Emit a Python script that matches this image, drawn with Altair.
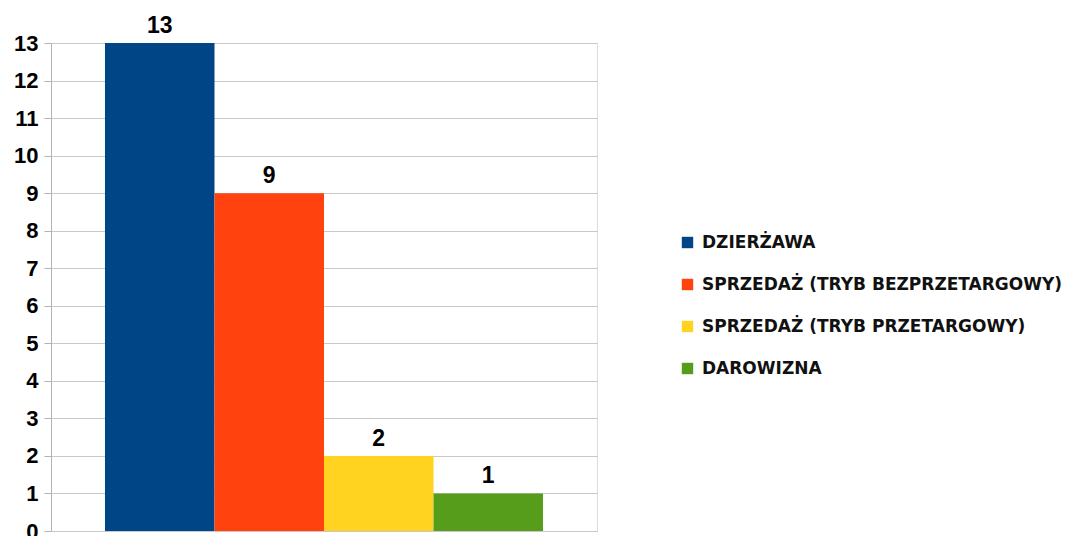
import altair as alt
import pandas as pd

categories = ["DZIERŻAWA", "SPRZEDAŻ (TRYB BEZPRZETARGOWY)", "SPRZEDAŻ (TRYB PRZETARGOWY)", "DAROWIZNA"]
values = [13, 9, 2, 1]
colors = ["#004586", "#ff420e", "#ffd320", "#579d1c"]
y_ticks = list(range(0, 14))

df = pd.DataFrame({"kategoria": categories, "liczba": values})

x_enc = alt.X("kategoria:N", sort=categories, axis=None,
              scale=alt.Scale(paddingInner=0, paddingOuter=0.493))

y_scale = alt.Scale(domain=[0, 13], nice=False)
y_axis = alt.Axis(values=y_ticks, title=None, grid=True, labelOverlap=False)

bars = alt.Chart(df).mark_bar().encode(
    x=x_enc,
    y=alt.Y("liczba:Q", scale=y_scale, axis=y_axis),
    color=alt.Color("kategoria:N", sort=categories,
                    scale=alt.Scale(domain=categories, range=colors),
                    legend=alt.Legend(title=None, orient="none", legendX=628, legendY=191,
                                      symbolType="square", symbolSize=130, symbolStrokeWidth=0,
                                      labelFont="DejaVu Sans", labelFontSize=17,
                                      labelFontWeight="bold", labelColor="#111111",
                                      rowPadding=24, labelOffset=6, padding=0,
                                      labelLimit=500)),
)

labels = alt.Chart(df).mark_text(dy=-10, baseline="alphabetic", font="Liberation Sans",
                                 fontSize=23, fontWeight="bold", color="#000000").encode(
    x=x_enc,
    y=alt.Y("liczba:Q", scale=y_scale, axis=y_axis),
    text=alt.Text("liczba:Q"),
)

chart = (bars + labels).properties(
    width=546, height=488,
    autosize=alt.AutoSizeParams(type="none"),
    padding={"left": 43, "top": 35, "right": 468, "bottom": 5},
).configure_view(stroke="#b3b3b3", strokeWidth=1).configure(background="#ffffff").configure_axisY(
    gridColor="#c8c8c8", gridWidth=1, domainColor="#b3b3b3", tickColor="#b3b3b3",
    tickSize=7, labelPadding=6, labelFont="Liberation Sans", labelFontSize=22,
    labelFontWeight="bold", labelColor="#000000", labelOverlap=False,
)

chart.save("out.html", embed_options={"renderer": "svg", "actions": False})
